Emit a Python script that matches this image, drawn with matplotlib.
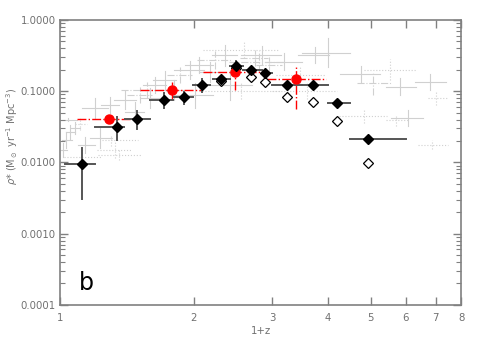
import numpy as np
import matplotlib
matplotlib.use('Agg')
import matplotlib.pyplot as plt
from matplotlib.ticker import FixedLocator, NullFormatter, FormatStrFormatter, LogLocator

# Black filled diamonds: 1+z, rho, x-range low/high, y-range low/high
blk_x = [1.119, 1.341, 1.492, 1.713, 1.903, 2.088, 2.309, 2.495, 2.697, 2.888, 3.24, 3.71, 4.20, 4.93]
blk_y = [0.0095, 0.0318, 0.0412, 0.0754, 0.0839, 0.122, 0.147, 0.226, 0.199, 0.182, 0.122, 0.122, 0.069, 0.0214]
blk_xlo = [1.026, 1.199, 1.40, 1.593, 1.807, 1.995, 2.21, 2.41, 2.58, 2.85, 3.0, 3.5, 4.0, 4.5]
blk_xhi = [1.199, 1.393, 1.593, 1.797, 1.995, 2.18, 2.41, 2.58, 2.85, 3.0, 3.5, 4.0, 4.5, 6.0]
blk_ylo = [0.0031, 0.0207, 0.0292, 0.0575, 0.066, 0.0985, 0.135, 0.188, 0.185, 0.170, 0.116, 0.116, 0.065, 0.0195]
blk_yhi = [0.016, 0.0435, 0.0533, 0.0934, 0.0985, 0.147, 0.160, 0.269, 0.215, 0.195, 0.128, 0.128, 0.073, 0.0235]

# Open diamonds
opn_x = [2.309, 2.495, 2.697, 2.888, 3.24, 3.71, 4.20, 4.93]
opn_y = [0.137, 0.212, 0.157, 0.133, 0.0839, 0.070, 0.0382, 0.0099]

# Red circles
red_x = [1.287, 1.788, 2.474, 3.40]
red_y = [0.0408, 0.104, 0.184, 0.147]
red_xlo = [1.09, 1.513, 2.10, 2.93]
red_xhi = [1.45, 2.08, 2.90, 3.97]
red_ylo = [0.036, 0.075, 0.104, 0.0557]
red_yhi = [0.046, 0.136, 0.21, 0.221]

# Gray background compilation
gry_x = [1.016, 1.032, 1.053, 1.081, 1.109, 1.138, 1.23, 1.04, 1.33, 1.30, 1.20, 1.295, 1.40,
         1.474, 1.513, 1.593, 1.635, 1.36, 1.72, 1.81, 1.86, 1.96, 2.01, 2.06, 2.17, 2.23,
         2.35, 2.41, 2.60, 2.74, 2.85, 2.96, 3.20, 3.46, 3.74, 4.00, 4.76, 5.06, 5.52, 5.82,
         6.79, 7.02, 4.84, 5.71, 6.06, 6.88, 2.55, 1.12, 1.57, 2.80, 3.6]
gry_y = [0.015, 0.0207, 0.0268, 0.0305, 0.0347, 0.0176, 0.0221, 0.040, 0.015, 0.0203, 0.058, 0.064, 0.075,
         0.051, 0.0885, 0.080, 0.122, 0.0128, 0.144, 0.104, 0.169, 0.199, 0.088, 0.233, 0.186, 0.275,
         0.32, 0.122, 0.38, 0.29, 0.32, 0.233, 0.26, 0.169, 0.32, 0.344, 0.174, 0.13, 0.20, 0.116,
         0.136, 0.080, 0.045, 0.039, 0.042, 0.0177, 0.10, 0.012, 0.105, 0.26, 0.10]
gry_dxl = [0.01, 0.02, 0.02, 0.02, 0.03, 0.04, 0.06, 0.04, 0.12, 0.06, 0.08, 0.06, 0.08,
           0.07, 0.1, 0.08, 0.1, 0.14, 0.1, 0.1, 0.12, 0.15, 0.2, 0.15, 0.12, 0.2,
           0.15, 0.3, 0.5, 0.2, 0.3, 0.2, 0.3, 0.4, 0.3, 0.5, 0.5, 0.4, 0.7, 0.4,
           0.5, 0.3, 0.6, 0.3, 0.5, 0.5, 0.5, 0.1, 0.2, 0.4, 0.6]
gry_dxh = [0.02, 0.03, 0.03, 0.03, 0.04, 0.06, 0.08, 0.05, 0.12, 0.2, 0.08, 0.06, 0.08,
           0.07, 0.1, 0.08, 0.1, 0.16, 0.1, 0.1, 0.12, 0.15, 0.2, 0.15, 0.12, 0.2,
           0.15, 0.3, 0.5, 0.2, 0.3, 0.2, 0.3, 0.5, 0.3, 0.5, 0.5, 0.5, 0.8, 0.5,
           0.6, 0.4, 0.6, 0.4, 0.5, 0.6, 0.6, 0.12, 0.2, 0.4, 0.6]
gry_dyf = [1.25, 1.3, 1.25, 1.2, 1.2, 1.3, 1.4, 1.05, 1.3, 1.2, 1.4, 1.3, 1.35,
           1.4, 1.3, 1.4, 1.3, 1.2, 1.35, 1.4, 1.3, 1.35, 1.5, 1.3, 1.4, 1.35,
           1.4, 1.6, 1.3, 1.3, 1.35, 1.3, 1.3, 1.3, 1.3, 1.6, 1.3, 1.45, 1.4, 1.3,
           1.3, 1.25, 1.25, 1.2, 1.3, 1.15, 1.3, 1.3, 1.3, 1.4, 1.3]
gry_ls = ['-', '-', '-', '-', ':', '-', '-', '-', ':', ':', '-', '-', '-',
          '-', '-.', '-', '-', ':', '-', '-', '-.', '-', '-', '-', '-', '-.',
          '-', '-', ':', '-.', '-', '-.', '-', ':', '-', '-', '-', '-.', ':', '-',
          '-', ':', ':', ':', '-', ':', ':', ':', '-.', '-.', ':']

fig = plt.figure(figsize=(4.8, 3.43), dpi=100)
ax = fig.add_axes([0.125, 0.111, 0.836, 0.831])
ax.set_xscale('log')
ax.set_yscale('log')

gcol = '#d0d0d0'
for i in range(len(gry_x)):
    x, y = gry_x[i], gry_y[i]
    ax.plot([x - gry_dxl[i], x + gry_dxh[i]], [y, y], color=gcol, lw=0.8, ls=gry_ls[i], zorder=1)
    ax.plot([x, x], [y / gry_dyf[i], y * gry_dyf[i]], color=gcol, lw=0.8, ls=gry_ls[i], zorder=1)

# red points with dash-dot errors
for i in range(len(red_x)):
    ax.plot([red_xlo[i], red_xhi[i]], [red_y[i], red_y[i]], color='red', lw=1.0, ls='-.', zorder=3)
    ax.plot([red_x[i], red_x[i]], [red_ylo[i], red_yhi[i]], color='red', lw=1.0, ls='-.', zorder=3)
ax.plot(red_x, red_y, 'o', color='red', ms=6.5, zorder=5)

# black points
for i in range(len(blk_x)):
    ax.plot([blk_xlo[i], blk_xhi[i]], [blk_y[i], blk_y[i]], color='#555555', lw=1.4, zorder=4)
    ax.plot([blk_x[i], blk_x[i]], [blk_ylo[i], blk_yhi[i]], color='#555555', lw=1.4, zorder=4)
ax.plot(opn_x, opn_y, 'D', mfc='white', mec='black', mew=0.9, ms=5, ls='none', zorder=4)
ax.plot(blk_x, blk_y, 'D', color='black', ms=5.2, ls='none', zorder=6)

ax.set_xlim(1, 8)
ax.set_ylim(1e-4, 1.0)

ax.xaxis.set_major_locator(FixedLocator([1, 2, 3, 4, 5, 6, 7, 8]))
ax.xaxis.set_minor_locator(FixedLocator([]))
ax.xaxis.set_major_formatter(FormatStrFormatter('%d'))
ax.yaxis.set_major_locator(FixedLocator([1e-4, 1e-3, 1e-2, 1e-1, 1.0]))
ax.yaxis.set_minor_locator(LogLocator(base=10, subs=np.arange(2, 10), numticks=20))
ax.yaxis.set_minor_formatter(NullFormatter())
ax.yaxis.set_major_formatter(FormatStrFormatter('%.4f'))

tcol = '#707070'
for s in ax.spines.values():
    s.set_color('#808080')
    s.set_linewidth(1.2)
ax.tick_params(which='both', direction='in', top=True, right=True, colors='#808080', labelcolor=tcol, labelsize=7.3)
ax.tick_params(which='major', length=6, width=1)
ax.tick_params(which='minor', length=3.5, width=0.8)
ax.tick_params(axis='x', pad=6)
ax.tick_params(axis='y', pad=3)

ax.set_xlabel('1+z', color=tcol, fontsize=7.3, labelpad=2)
ax.set_ylabel(r'$\rho$* (M$_\odot$ yr$^{-1}$ Mpc$^{-3}$)', color=tcol, fontsize=7)
ax.yaxis.set_label_coords(-0.1, 0.59)

ax.text(0.047, 0.053, 'b', transform=ax.transAxes, fontsize=17, color='black')

fig.savefig('out.png', dpi=100)
